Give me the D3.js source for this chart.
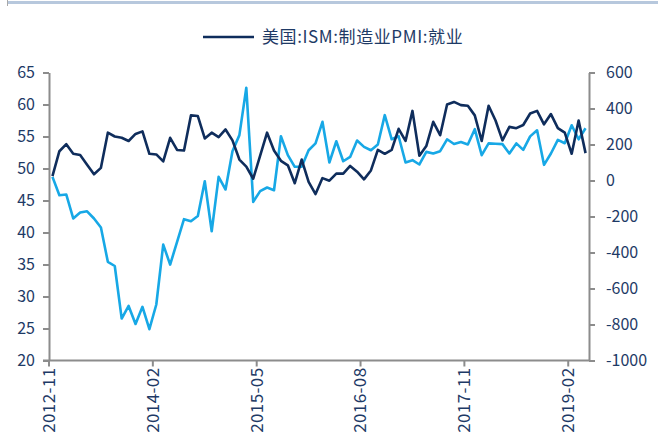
<!DOCTYPE html>
<html>
<head>
<meta charset="utf-8">
<script src="https://cdn.jsdelivr.net/npm/d3@7"></script>
<style>
  body { margin: 0; background: #fff; }
  svg { display: block; }
</style>
</head>
<body>
<script>
// ISM manufacturing employment (left axis), monthly 2012-11 .. 2019-04
var ismEmployment = [
  48.8, 52.7, 53.8, 52.3, 52.1, 50.6, 49.1, 50.1, 55.6, 55.0, 54.8, 54.3,
  55.4, 55.8, 52.3, 52.2, 51.1, 54.8, 52.9, 52.8, 58.3, 58.2, 54.7, 55.6,
  54.9, 56.1, 54.4, 51.4, 50.3, 48.4, 52.0, 55.6, 52.8, 51.2, 50.5, 47.7,
  51.4, 47.9, 46.0, 48.5, 48.1, 49.2, 49.2, 50.4, 49.5, 48.3, 49.7, 52.9,
  52.3, 52.9, 56.2, 54.3, 59.0, 52.0, 53.5, 57.3, 55.2, 60.0, 60.4, 59.9,
  59.8, 58.3, 54.3, 59.8, 57.5, 54.4, 56.5, 56.3, 56.8, 58.6, 59.0, 56.9,
  58.5, 56.3, 55.6, 52.3, 57.5, 52.4
];

// second series (right axis), same months
var rightSeries = [
    20,  -82,  -78, -211, -178, -171, -211, -261, -452, -475, -767, -697,
  -797, -702, -826, -689, -356, -467, -341, -215, -226, -197,   -4, -282,
    20,  -50,  163,  252,  515, -119,  -59,  -39,  -54,  246,  141,   76,
    76,  168,  206,  326,  100,  218,  107,  131,  222,  187,  168,  200,
   363,  229,  246,  100,  113,   89,  159,  150,  163,  229,  203,  214,
   200,  285,  141,  206,  204,  202,  150,  206,  170,  245,  279,   87,
   150,  226,  207,  307,  229,  290
];

var tickLabels = ["2012-11", "2014-02", "2015-05", "2016-08", "2017-11", "2019-02"];
var leftTicks = [20, 25, 30, 35, 40, 45, 50, 55, 60, 65];
var rightTicks = [-1000, -800, -600, -400, -200, 0, 200, 400, 600];
var legendLabel = "美国:ISM:制造业PMI:就业";

const width = 658;
const height = 443;
const marginLeft = 49;
const marginRight = 69;
const marginTop = 72.5;
const marginBottom = 82.5;

const fmt = d3.timeFormat("%Y-%m");
const months = d3.timeMonth.range(new Date(2012, 10, 1), new Date(2019, 4, 1)).map(fmt);

const axisColor = "#8c8c8c";
const textColor = "#1e3a66";
const darkColor = "#0f2d5c";
const lightColor = "#17a8e6";
const font = "'Noto Sans CJK SC', 'Noto Sans', sans-serif";

const svg = d3.select("body").append("svg")
    .attr("width", width)
    .attr("height", height)
    .attr("viewBox", [0, 0, width, height]);

// Scales
const x = d3.scaleBand()
    .domain(months)
    .range([marginLeft, width - marginRight])
    .padding(0);

const yLeft = d3.scaleLinear()
    .domain([20, 65])
    .range([height - marginBottom, marginTop]);

const yRight = d3.scaleLinear()
    .domain([-1000, 600])
    .range([height - marginBottom, marginTop]);

// top band
svg.append("rect")
    .attr("x", 7).attr("y", 1)
    .attr("width", width - 7).attr("height", 3)
    .attr("fill", "#b7c8dd");
svg.append("line")
    .attr("x1", 7.5).attr("x2", 7.5).attr("y1", 0).attr("y2", 6)
    .attr("stroke", "#a9a9a9");

// legend
const legend = svg.append("g").attr("transform", "translate(203,37)");
legend.append("line")
    .attr("x1", 0).attr("x2", 51)
    .attr("stroke", darkColor).attr("stroke-width", 2.5);
legend.append("text")
    .attr("x", 59).attr("dy", "0.35em")
    .attr("fill", textColor)
    .attr("font-family", font)
    .attr("font-size", 17)
    .attr("letter-spacing", 0.6)
    .text(legendLabel);

// left axis
svg.append("g")
    .attr("transform", `translate(${marginLeft},0)`)
    .call(d3.axisLeft(yLeft).tickValues(leftTicks).tickFormat(d => String(d))
        .tickSize(6).tickPadding(8).tickSizeOuter(0))
    .call(g => g.select(".domain").attr("stroke", axisColor).attr("stroke-width", 2))
    .call(g => g.selectAll(".tick line").attr("stroke", axisColor).attr("stroke-width", 2))
    .call(g => g.selectAll(".tick text")
        .attr("fill", textColor).attr("font-family", font).attr("font-size", 16));

// right axis
svg.append("g")
    .attr("transform", `translate(${width - marginRight},0)`)
    .call(d3.axisRight(yRight).tickValues(rightTicks).tickFormat(d => String(d))
        .tickSize(6).tickPadding(11).tickSizeOuter(0))
    .call(g => g.select(".domain").attr("stroke", axisColor).attr("stroke-width", 2))
    .call(g => g.selectAll(".tick line").attr("stroke", axisColor).attr("stroke-width", 2))
    .call(g => g.selectAll(".tick text")
        .attr("fill", textColor).attr("font-family", font).attr("font-size", 16));

// bottom axis, ticks at category edges
const bottom = svg.append("g")
    .attr("transform", `translate(0,${height - marginBottom})`);
bottom.append("line")
    .attr("x1", marginLeft - 6).attr("x2", width - marginRight)
    .attr("stroke", axisColor).attr("stroke-width", 2);
bottom.selectAll(".xtick")
    .data(tickLabels)
    .join("line")
    .attr("class", "xtick")
    .attr("x1", d => x(d)).attr("x2", d => x(d))
    .attr("y1", 0).attr("y2", 6)
    .attr("stroke", axisColor).attr("stroke-width", 2);
bottom.selectAll(".xlabel")
    .data(tickLabels)
    .join("text")
    .attr("class", "xlabel")
    .attr("transform", d => `translate(${x(d)},7) rotate(-90)`)
    .attr("text-anchor", "end")
    .attr("dy", "0.35em")
    .attr("fill", textColor)
    .attr("font-family", font)
    .attr("font-size", 17)
    .attr("letter-spacing", 0.4)
    .text(d => d);

// lines
const cx = (d, i) => x(months[i]) + x.bandwidth() / 2;

svg.append("path")
    .datum(rightSeries)
    .attr("fill", "none")
    .attr("stroke", lightColor)
    .attr("stroke-width", 2.6)
    .attr("stroke-linejoin", "round")
    .attr("d", d3.line().x(cx).y(d => yRight(d)));

svg.append("path")
    .datum(ismEmployment)
    .attr("fill", "none")
    .attr("stroke", darkColor)
    .attr("stroke-width", 2.6)
    .attr("stroke-linejoin", "round")
    .attr("d", d3.line().x(cx).y(d => yLeft(d)));
</script>
</body>
</html>
